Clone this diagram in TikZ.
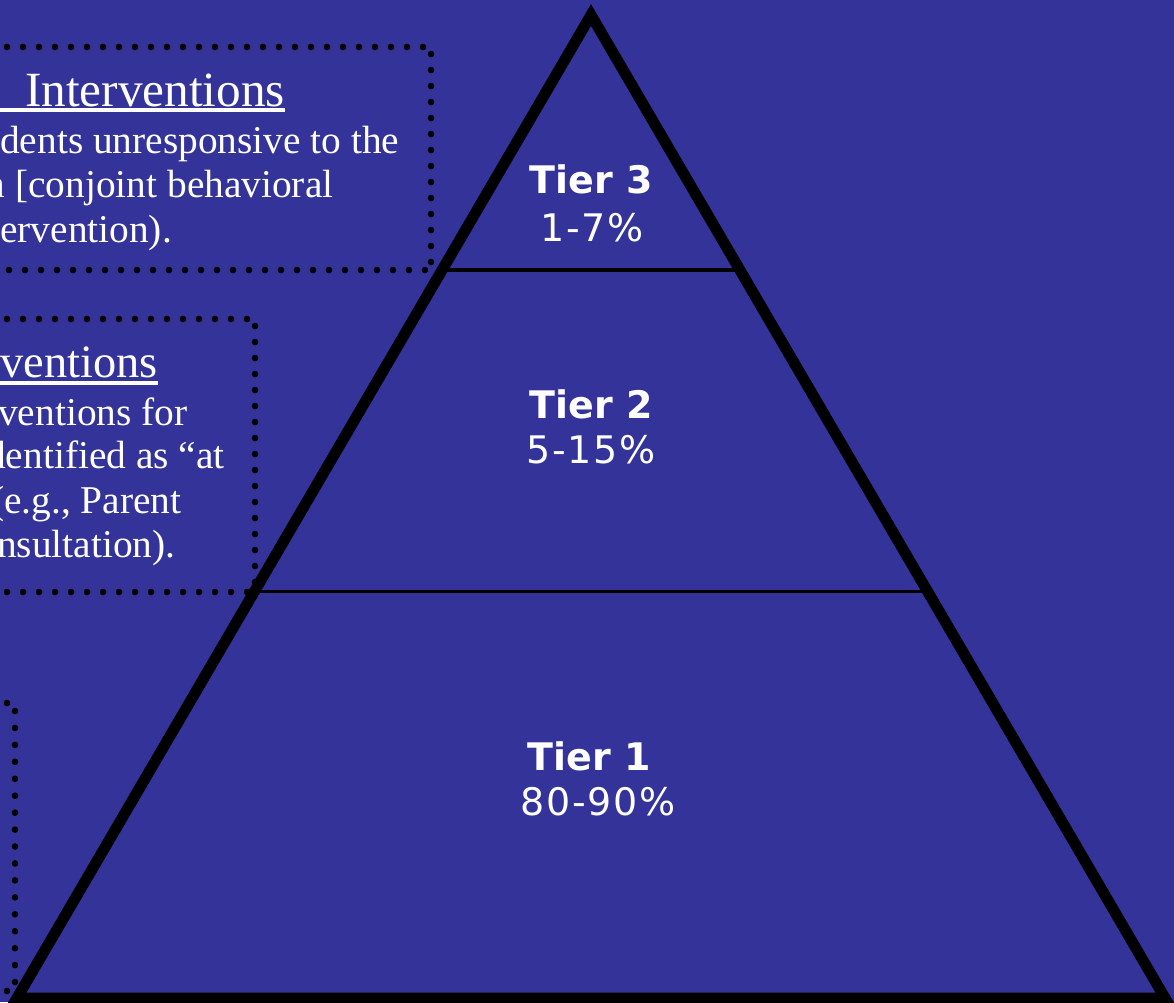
\documentclass[tikz,border=0pt]{standalone}
\usepackage{fontspec}
\setmainfont{Liberation Serif}
\newfontfamily\tierfont{DejaVu Sans}
\newfontfamily\pctfont[LetterSpace=5]{DejaVu Sans}
\usetikzlibrary{calc}
\definecolor{bg}{RGB}{51,51,153}
\begin{document}
\begin{tikzpicture}[x=0.025cm,y=-0.025cm,
  edge/.style={line width=7.8pt, line join=miter},
  divider/.style={line width=2.2pt},
  dotfill/.style={fill=black},
  body/.style={text=white, font=\fontsize{28}{34}\selectfont, anchor=base west, inner sep=0pt},
  title/.style={text=white, font=\fontsize{35}{42}\selectfont, anchor=base west, inner sep=0pt},
  tier/.style={text=white, font=\tierfont\bfseries\fontsize{27}{32}\selectfont, anchor=base, inner sep=0pt},
  pct/.style={text=white, font=\pctfont\fontsize{27}{32}\selectfont, anchor=base, inner sep=0pt},
  uline/.style={white, line width=2.2pt}]
\fill[bg] (0,0) rectangle (1174,1002);
\useasboundingbox (0,0) rectangle (1174,1002);
\begin{scope}
\clip (0,0) rectangle (1174,1002);
% dotted box 1
\foreach \k in {0,...,26} \fill[dotfill] (423-16*\k,47) circle[radius=3.3];
\foreach \k in {0,...,13} \fill[dotfill] (431,54+16*\k) circle[radius=3.3];
\foreach \k in {0,...,26} \fill[dotfill] (425-16*\k,270) circle[radius=3.3];
% dotted box 2
\foreach \k in {0,...,15} \fill[dotfill] (247-16*\k,319) circle[radius=3.3];
\foreach \k in {0,...,16} \fill[dotfill] (255,326+16*\k) circle[radius=3.3];
\foreach \k in {0,...,15} \fill[dotfill] (247-16*\k,592) circle[radius=3.3];
% dotted box 3
\fill[dotfill] (7,703) circle[radius=3.3];
\foreach \k in {0,...,16} \fill[dotfill] (15,711+16.94*\k) circle[radius=3.3];
\fill[dotfill] (7,991) circle[radius=3.3];
% pyramid
\coordinate (apex) at (591,15);
\coordinate (bl) at (17,998);
\coordinate (br) at (1165,998);
\draw[edge] (bl) -- (apex) -- (br) -- cycle;
\coordinate (l3) at ($(apex)!0.2594!(bl)$);
\coordinate (r3) at ($(apex)!0.2594!(br)$);
\coordinate (l2) at ($(apex)!0.5860!(bl)$);
\coordinate (r2) at ($(apex)!0.5860!(br)$);
\draw[divider] (l3) -- (r3);
\draw[divider] (l2) -- (r2);
% tier labels
\node[tier] (tier3) at (591,193) {Tier 3};
\node[pct] (pct3) at (592,241) {1-7\%};
\node[tier] (tier2) at (591,418) {Tier 2};
\node[pct] (pct2) at (591,463) {5-15\%};
\node[tier] (tier1) at (589,770) {Tier 1};
\node[pct] (pct1) at (598,815) {80-90\%};
% box 1 text
\node[title] (t1) at (25,106) {Interventions};
\coordinate (u1s) at (-5,110);
\draw[uline] (u1s) -- (u1s -| t1.east);
\node[body] (b1a) at (0,153) {dents unresponsive to the};
\node[body] (b1b) at (-14.5,197) {n [conjoint behavioral};
\node[body] (b1c) at (0,242) {ervention).};
% box 2 text
\node[title, font=\fontsize{33}{40}\selectfont] (t2) at (0,377) {ventions};
\coordinate (u2s) at (-5,383);
\draw[uline] (u2s) -- (u2s -| t2.east);
\node[body] (b2a) at (-2,425) {ventions for};
\node[body] (b2b) at (-14,468) {dentified as “at};
\node[body] (b2c) at (-9,513) {(e.g., Parent};
\node[body] (b2d) at (-3,557) {nsultation).};
\end{scope}
\end{tikzpicture}
\end{document}
